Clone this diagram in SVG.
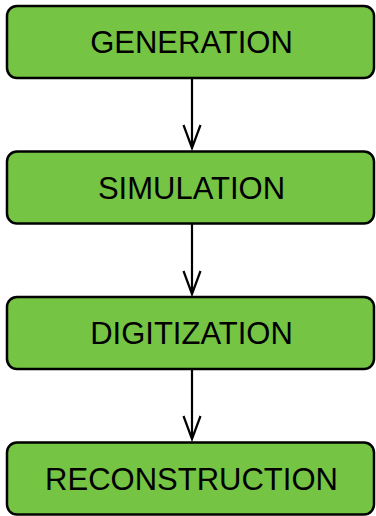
<svg xmlns="http://www.w3.org/2000/svg" width="376" height="516" viewBox="0 0 376 516">
<style>
.box{fill:#76c443;stroke:#000;stroke-width:2.5}
.lbl{font-family:"Liberation Sans",Arial,sans-serif;font-size:31px;fill:#000;text-anchor:middle}
.edge{stroke:#000;stroke-width:2.2;fill:none}
</style>
<rect width="376" height="516" fill="#fff"/>
<g id="generation"><rect class="box" x="7" y="6" width="367" height="72" rx="10"/><text class="lbl" x="191.5" y="53">GENERATION</text></g>
<g id="simulation"><rect class="box" x="7" y="151.5" width="367" height="72" rx="10"/><text class="lbl" x="191.5" y="198.5">SIMULATION</text></g>
<g id="digitization"><rect class="box" x="7" y="297" width="367" height="72" rx="10"/><text class="lbl" x="191.5" y="344">DIGITIZATION</text></g>
<g id="reconstruction"><rect class="box" x="7" y="442.5" width="367" height="72" rx="10"/><text class="lbl" x="191.5" y="489.5">RECONSTRUCTION</text></g>
<g id="connectors">
<path class="edge" d="M192 78V148M183.5 125L192 148L200.5 125"/>
<path class="edge" d="M192 223.5V294M183.5 271L192 294L200.5 271"/>
<path class="edge" d="M192 369V439M183.5 416L192 439L200.5 416"/>
</g>
</svg>
